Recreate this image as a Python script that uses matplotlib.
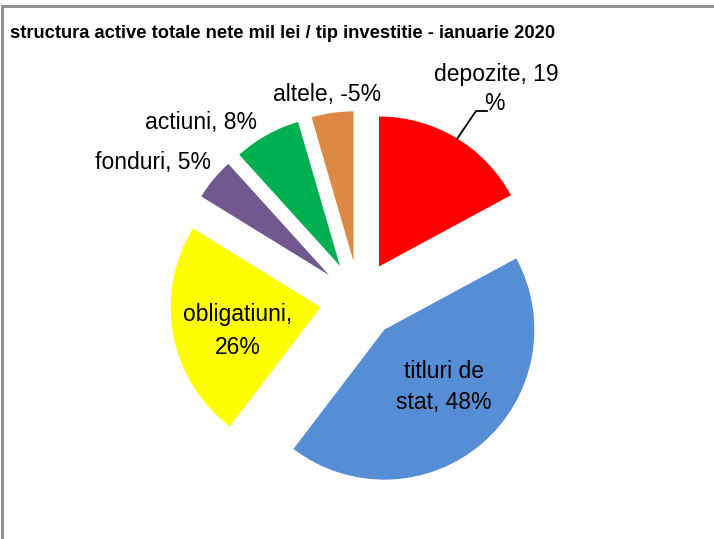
import numpy as np
import matplotlib
matplotlib.use("Agg")
import matplotlib.pyplot as plt
from matplotlib.patches import Rectangle

# --- data ---
categories = ["depozite", "titluri de stat", "obligatiuni", "fonduri", "actiuni", "altele"]
values = [19, 48, 26, 5, 8, -5]
colors = ["#FF0000", "#558ED5", "#FFFF00", "#71588F", "#00B050", "#DD8843"]
title = "structura active totale nete mil lei / tip investitie - ianuarie 2020"

# --- layout (figure pixels, y up) ---
W, H = 714, 539
CENTER = (359, H - 300)
RADIUS = 150
EXPLODE = 39

plt.rcParams['font.family'] = ['Liberation Sans', 'DejaVu Sans']

fig = plt.figure(figsize=(W / 100, H / 100), dpi=100)
ax = fig.add_axes([0, 0, 1, 1])

# Excel draws negative slices by absolute size
sizes = np.abs(values)
ax.pie(sizes, colors=colors, startangle=90, counterclock=False,
       center=CENTER, radius=RADIUS, explode=[EXPLODE] * len(sizes),
       wedgeprops=dict(linewidth=0), frame=True)
ax.set_xlim(0, W)
ax.set_ylim(0, H)
ax.set_aspect('equal')
ax.axis('off')

lab = [f"{c}, {v}%" for c, v in zip(categories, values)]
fs = 16.5
# depozite (wrapped, with leader line)
ax.text(496, H - 75, "depozite, 19", ha='center', va='center', fontsize=fs)
ax.text(494, H - 104, "%", ha='center', va='center', fontsize=fs)
ax.plot([457, 476, 487], [H - 139, H - 111, H - 111], color='black', lw=1.3)
# titluri de stat
ax.text(444, H - 387, "titluri de\nstat, " + f"{values[1]}%", ha='center', va='center',
        fontsize=fs, linespacing=1.45)
# obligatiuni
ax.text(238, H - 331, "obligatiuni,\n" + f"{values[2]}%", ha='center', va='center',
        fontsize=fs, linespacing=1.5)
# small slices, labels outside
ax.text(153, H - 163, lab[3], ha='center', va='center', fontsize=fs)
ax.text(201, H - 123, lab[4], ha='center', va='center', fontsize=fs)
ax.text(327, H - 95, lab[5], ha='center', va='center', fontsize=fs)

# title
ax.text(10, H - 34, title, ha='left', va='center', fontsize=13.2, fontweight='bold')

# chart border
ax.add_patch(Rectangle((2, -20), W + 40, H - 6 + 20, fill=False,
                       edgecolor='#8C8C8C', lw=2, clip_on=False))

fig.savefig("out.png", dpi=100)
